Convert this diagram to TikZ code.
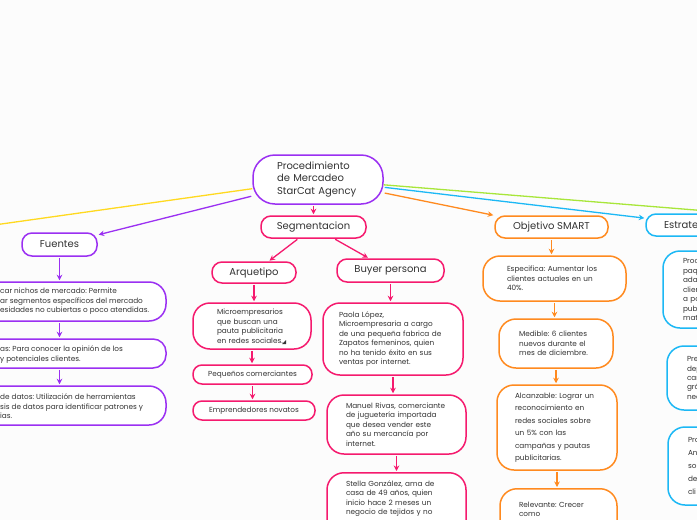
\documentclass[tikz,border=0pt]{standalone}
\usepackage{fontspec}
\setmainfont{Poppins}
\frenchspacing
\usetikzlibrary{arrows.meta,positioning}
\definecolor{cPurple}{HTML}{9B30F2}
\definecolor{cPink}{HTML}{F51A6E}
\definecolor{cOrange}{HTML}{FF8A1F}
\definecolor{cBlue}{HTML}{1CB8F5}
\definecolor{cLime}{HTML}{A8E63A}
\definecolor{cYellow}{HTML}{FFD91F}
\definecolor{txtgray}{HTML}{333333}
\tikzset{
  box/.style={draw=#1,fill=white,line width=1.5pt,rounded corners=10pt,inner sep=0pt,text=txtgray,font=\fontsize{10}{12.5}\selectfont},
  card/.style={draw=#1,fill=white,line width=1.5pt,rounded corners=17pt,inner sep=0pt,align=left,text=txtgray,font=\fontsize{7.3}{9.5}\selectfont},
  frag/.style={anchor=west,inner sep=0pt,align=left,text=txtgray,font=\fontsize{7.3}{9.5}\selectfont},
  link/.style={draw=#1,line width=1.3pt,->,shorten <=1pt,shorten >=1pt},
  branch/.style={draw=#1,line width=1.3pt}
}

\begin{document}
\begin{tikzpicture}[x=1pt,y=-1pt,>={Stealth[length=5.5pt,width=5.5pt]}]
\useasboundingbox (0,0) rectangle (697,520);
\clip (0,0) rectangle (697,520);
\fill[white!99!black] (0,0) rectangle (697,520);

\coordinate (yellowEnd) at (-20,227);
\coordinate (limeEnd) at (720,212);

\node[box=cPurple,align=left,text width=82,minimum width=130,minimum height=49,rounded corners=22] (root) at (318,179.5) {Procedimiento\\de Mercadeo\\StarCat Agency};

\draw[branch=cYellow] (root) -- (yellowEnd);
\draw[branch=cLime] (root) -- (limeEnd);

% Fuentes
\node[box=cPurple,minimum width=75,minimum height=23] (fuentes) at (59.5,244.5) {Fuentes};
\node[card=cPurple,minimum width=366,minimum height=39] (nichos) at (-17,301.5) {};
\node[card=cPurple,minimum width=366,minimum height=29,rounded corners=13] (encuestas) at (-17,353.5) {};
\node[card=cPurple,minimum width=366,minimum height=39] (analisis) at (-17,405.5) {};
\node[frag] (nichosTxt) at (0,301.5) {car nichos de mercado: Permite\\ar segmentos específicos del mercado\\esidades no cubiertas o poco atendidas.};
\node[frag] (encuestasTxt) at (0,354.5) {as: Para conocer la opinión de los\\y potenciales clientes.};
\node[frag] (analisisTxt) at (0,406.5) {de datos: Utilización de herramientas\\sis de datos para identificar patrones y\\ias.};

% Segmentacion
\node[box=cPink,minimum width=105,minimum height=22] (seg) at (313.5,227) {Segmentacion};
\node[box=cPink,minimum width=84,minimum height=21] (arq) at (254,272.5) {Arquetipo};
\node[box=cPink,minimum width=107,minimum height=23] (buyer) at (390.5,270.5) {Buyer persona};
\node[card=cPink,minimum width=118,minimum height=46,text width=70] (micro) at (252,326) {Microempresarios\\que buscan una\\pauta publicitaria\\en redes sociales.};
\fill[txtgray] (282,344) -- (286,344) -- (286,340) -- cycle;
\node[card=cPink,minimum width=119,minimum height=19,rounded corners=9,align=center] (pequenos) at (252.5,374.5) {Pequeños comerciantes};
\node[card=cPink,minimum width=122,minimum height=19,rounded corners=9,align=center] (novatos) at (254,410.5) {Emprendedores novatos};
\node[card=cPink,minimum width=140,minimum height=72,text width=108] (paola) at (393,339) {Paola López,\\Microempresaria a cargo\\de una pequeña fabrica de\\Zapatos femeninos, quien\\no ha tenido éxito en sus\\ventas por internet.};
\node[card=cPink,minimum width=139,minimum height=59,text width=101] (manuel) at (396.5,424.5) {Manuel Rivas, comerciante\\de juguetería importada\\que desea vender este\\año su mercancía por\\internet.};
\node[card=cPink,anchor=north,minimum width=139,text width=101,inner ysep=5.5pt,text height=8pt,text depth=80pt] (stella) at (396.5,472) {Stella González, ama de\\casa de 49 años, quien\\inicio hace 2 meses un\\negocio de tejidos y no};

% Objetivo SMART
\node[box=cOrange,minimum width=113,minimum height=22] (smart) at (551.5,227) {Objetivo SMART};
\node[card=cOrange,minimum width=143,minimum height=45,text width=95] (especifica) at (554.5,278.5) {Especifica: Aumentar los\\clientes actuales en un\\40\%.};
\node[card=cOrange,minimum width=114,minimum height=49,text width=74] (medible) at (556,343.5) {Medible: 6 clientes\\nuevos durante el\\mes de diciembre.};
\node[card=cOrange,minimum width=120,minimum height=85,text width=84,font=\fontsize{7.3}{12.5}\selectfont] (alcanzable) at (557,427.5) {Alcanzable: Lograr un\\reconocimiento en\\redes sociales sobre\\un 5\% con las\\campañas y pautas\\publicitarias.};
\node[card=cOrange,anchor=north,minimum width=117,text width=79,inner ysep=10.5pt,text height=8pt,text depth=80pt] (relevante) at (558.5,488) {Relevante: Crecer\\como};

% Estrategia
\node[box=cBlue,minimum width=114,minimum height=22,align=left,text width=78] (estrategia) at (703,225) {Estrate};
\node[card=cBlue,minimum width=137,minimum height=77,text width=97] (paquetes) at (731.5,289.5) {Proc\\paq\\ada\\clien\\a po\\publ\\mat};
\node[card=cBlue,minimum width=133,minimum height=64,text width=93,font=\fontsize{7.3}{9.3}\selectfont] (precios) at (733.5,378) {Pre\\dep\\car\\grá\\nec};
\node[card=cBlue,minimum width=132,minimum height=78,text width=92,font=\fontsize{7.3}{13}\selectfont] (promo) at (734,466) {Pro\\An\\so\\de\\cli};

\draw[link=cPurple] (root) -- (fuentes);
\draw[link=cOrange] (root) -- (smart);
\draw[link=cBlue] (root) -- (estrategia);
\draw[link=cPink] (root.south -| seg) -- (seg);
\draw[link=cPink] (seg) -- (arq);
\draw[link=cPink] (seg) -- (buyer);
\foreach \a/\b/\c in {fuentes/nichos/cPurple,nichos/encuestas/cPurple,encuestas/analisis/cPurple}
  \draw[link=\c] (fuentes.south |- \a.south) -- (fuentes.south |- \b.north);
\foreach \a/\b/\c in {arq/micro/cPink,micro/pequenos/cPink,pequenos/novatos/cPink,buyer/paola/cPink,paola/manuel/cPink,manuel/stella/cPink,smart/especifica/cOrange,especifica/medible/cOrange,medible/alcanzable/cOrange,alcanzable/relevante/cOrange}
  \draw[link=\c] (\a.south) -- (\a.south |- \b.north);
\end{tikzpicture}
\end{document}
